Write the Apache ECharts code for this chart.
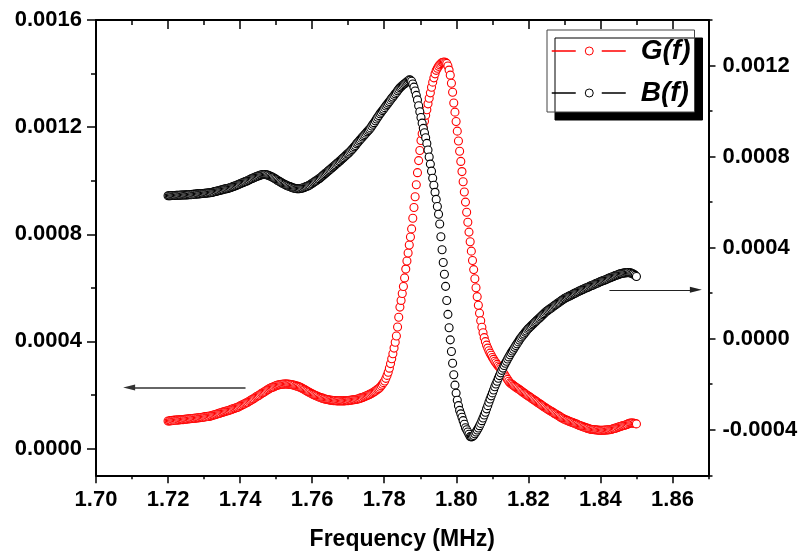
<!DOCTYPE html>
<html>
<head>
<meta charset="utf-8">
<script src="https://cdn.jsdelivr.net/npm/echarts@6/dist/echarts.min.js"></script>
<style>
html,body{margin:0;padding:0;background:#fff;}
#chart{width:803px;height:554px;}
</style>
</head>
<body>
<div id="chart"></div>
<script>
// Frequency sweep: 401 points from 1.72 to 1.85 MHz
const F_START = 1.72, F_STOP = 1.85, N_POINTS = 401;
const FREQ = Array.from({length: N_POINTS}, (_, i) => +(F_START + i * (F_STOP - F_START) / (N_POINTS - 1)).toFixed(6));

// Values in micro-units (x 1e-6)
const UNIT = 1e-6;
const G_VALUES = [103,103,104,104,105,105,106,106,106,107,107,108,108,108,109,109,110,110,111,111,112,112,113,113,114,114,115,115,
116,117,117,118,119,119,120,120,121,
122,124,125,126,128,129,131,132,133,135,136,137,139,140,
141,143,144,146,147,149,150,152,153,
155,158,160,162,164,166,169,171,173,176,178,
181,184,186,189,192,195,197,200,203,
206,208,211,214,217,219,222,225,
227,229,230,232,234,236,237,
238,239,240,240,241,241,
241,241,240,240,239,238,
237,236,234,233,232,230,229,
226,224,221,219,216,214,211,209,206,204,
202,200,198,196,194,192,190,
189,188,186,185,184,183,182,181,
180,180,179,179,179,178,178,178,178,
178,178,178,178,179,179,179,
180,180,181,182,182,183,184,
185,186,188,189,190,192,
194,196,198,200,202,204,206,
209,212,215,218,221,224,
229,234,240,246,252,
262,273,285,
300,317,335,
354,375,397,420,
454,490,528,
553,579,605,
637,670,
700,730,760,
790,820,
860,900,940,
985,1030,1075,
1113,1150,
1175,1199,1222,
1244,1265,
1287,1308,1328,
1349,1368,
1384,1399,1412,
1420,1427,1433,
1437,1441,1442,1443,
1441,1438,1428,1413,1394,1364,1330,
1290,1256,1221,1185,1148,1110,1072,1034,996,958,920,882,845,808,772,737,702,668,634,600,567,535,505,477,453,432,414,399,386,375,365,356,
348,340,333,326,320,314,308,303,298,
291,284,278,271,264,258,251,245,
242,239,235,232,229,226,223,220,217,214,210,207,204,201,198,195,
192,189,186,183,180,177,174,171,168,165,162,159,156,153,150,
147,145,142,139,137,134,131,129,126,123,121,118,115,113,110,
108,106,105,103,101,99,98,96,94,92,91,89,87,85,84,82,
80,79,77,76,75,73,72,
71,71,70,70,69,69,68,68,
68,68,68,69,69,69,70,70,
71,72,74,75,76,77,79,80,
82,83,85,86,87,89,90,
92,94,95,
95,95,94,93,92];

const B_VALUES = [628,628,628,629,629,629,629,630,630,630,630,631,631,631,631,632,632,632,633,633,
633,634,634,635,635,636,636,637,637,638,638,639,639,640,640,641,641,
642,643,645,646,647,649,650,651,653,654,655,657,658,659,660,662,663,
665,667,669,671,673,675,677,679,682,684,686,688,690,
692,695,697,700,702,704,707,709,
711,713,715,717,719,720,
721,721,721,720,719,
717,715,712,710,707,704,
701,697,694,691,688,685,
682,679,677,674,672,670,668,
666,664,662,661,660,659,
659,659,660,661,662,
664,666,668,670,673,675,
679,682,686,689,693,696,700,703,707,
711,716,720,725,729,733,738,742,
746,751,755,760,764,769,773,778,782,
787,792,796,801,806,811,815,820,825,
831,837,843,849,856,862,868,874,
880,886,891,897,903,909,915,920,926,
934,942,949,957,965,973,980,988,
995,1002,1008,1015,1022,1029,1035,1042,1049,
1056,1062,1069,1076,1082,1089,1096,1102,
1107,1112,1116,1120,1124,
1129,1133,1137,1136,1131,1119,1105,1088,1069,1049,
1023,997,972,947,924,905,883,858,829,798,767,736,705,674,643,612,581,
547,504,448,391,335,283,230,168,107,48,-5,-56,-108,-158,-204,-239,-270,-294,-315,-330,-345,-360,-376,-391,-400,-410,-420,-430,-431,-430,
-425,-418,-410,-401,-392,-382,-372,-360,-348,-335,-323,-308,-294,-279,-265,-251,-238,-225,-211,-199,-187,-174,-162,-150,-139,-129,-118,-108,-99,-89,-80,-71,-62,-54,-46,-38,-30,-22,-14,-6,
2,8,15,21,28,34,41,46,51,56,61,66,71,76,81,86,90,95,100,105,110,115,120,
123,127,131,134,138,142,146,149,153,157,160,164,168,171,175,
178,181,183,186,188,191,193,196,199,201,204,206,209,211,214,
216,218,221,223,225,227,230,232,234,236,239,241,243,245,248,250,
252,254,256,258,260,262,265,267,
269,271,273,275,277,279,281,283,285,
286,287,288,289,290,290,291,
290,289,287,285,282,278,273];

const X_MAJOR = [1.70,1.72,1.74,1.76,1.78,1.80,1.82,1.84,1.86];
const X_MINOR = [1.71,1.73,1.75,1.77,1.79,1.81,1.83,1.85,1.87];
const YL_MAJOR = [0.0000,0.0004,0.0008,0.0012,0.0016];
const YL_MINOR = [0.0002,0.0006,0.0010,0.0014];
const YR_MAJOR = [-0.0004,0.0000,0.0004,0.0008,0.0012];
const YR_MINOR = [-0.0006,-0.0002,0.0002,0.0006,0.0010,0.0014];

// Arrow annotations (data coordinates)
const ARROW_G = [[1.7415, 0.000228],[1.7092, 0.000228]];
const ARROW_B = [[1.8425, 0.000215],[1.8665, 0.000215]];

const FONT = "'Liberation Sans', Arial, Helvetica, sans-serif";
const n = Math.min(FREQ.length, G_VALUES.length, B_VALUES.length);
const gData = [], bData = [];
for (let i = 0; i < n; i++) {
  gData.push([FREQ[i], G_VALUES[i] * UNIT]);
  bData.push([FREQ[i], B_VALUES[i] * UNIT]);
}

const axisLine = {show: true, onZero: false, lineStyle: {color: '#000', width: 2}};
const noLine = {show: false, onZero: false};
const labelStyle = {color: '#000', fontFamily: FONT, fontWeight: 'bold', fontSize: 22};

function xAx(pos, values, len, inside, labels) {
  return {
    type: 'value', position: pos, min: 1.70, max: 1.87,
    axisLine: labels !== null ? axisLine : noLine,
    splitLine: {show: false},
    axisTick: {show: true, customValues: values, length: len, inside: inside, lineStyle: {color: '#000', width: 1.5}},
    axisLabel: labels ? Object.assign({show: true, customValues: labels, margin: 14, formatter: v => v.toFixed(2)}, labelStyle) : {show: false}
  };
}
function yAx(pos, min, max, values, len, labels, line) {
  return {
    type: 'value', position: pos, min: min, max: max,
    axisLine: line ? axisLine : noLine,
    splitLine: {show: false},
    axisTick: {show: true, customValues: values, length: len, inside: false, lineStyle: {color: '#000', width: 1.5}},
    axisLabel: labels ? Object.assign({show: true, customValues: labels, margin: 14, formatter: v => (Math.abs(v) < 1e-12 ? 0 : v).toFixed(4)}, labelStyle) : {show: false}
  };
}

const xBottom = xAx('bottom', X_MAJOR, 8, false, X_MAJOR);
xBottom.name = 'Frequency (MHz)';
xBottom.nameLocation = 'middle';
xBottom.nameGap = 53;
xBottom.nameTextStyle = {color: '#000', fontFamily: FONT, fontWeight: 'bold', fontSize: 23};

const option = {
  animation: false,
  backgroundColor: '#fff',
  grid: {left: 96, right: 94.5, top: 20, bottom: 78.7, containLabel: false, outerBoundsMode: 'none'},
  xAxis: [
    xBottom,
    xAx('bottom', X_MINOR, 4, false, null),
    xAx('top', X_MAJOR, 9, true, false),
    xAx('top', X_MINOR, 5, true, null)
  ],
  yAxis: [
    yAx('left', -0.0001, 0.0016, YL_MAJOR, 9, YL_MAJOR, true),
    yAx('left', -0.0001, 0.0016, YL_MINOR, 5, null, false),
    yAx('right', -0.0006, 0.0014, YR_MAJOR, 7, YR_MAJOR, true),
    yAx('right', -0.0006, 0.0014, YR_MINOR, 4, null, false)
  ],
  legend: {
    orient: 'vertical', left: 547, top: 30,
    padding: [7, 4, 5, 4], itemGap: 14, itemWidth: 75, itemHeight: 10,
    backgroundColor: '#fff', borderColor: '#444', borderWidth: 1,
    shadowColor: '#000', shadowBlur: 0, shadowOffsetX: 8, shadowOffsetY: 8,
    selectedMode: false,
    textStyle: {fontFamily: FONT, fontWeight: 'bold', fontStyle: 'italic', fontSize: 28, color: '#000', padding: [0, 0, 0, 9]},
    data: [
      {name: 'G(f)', itemStyle: {color: '#fff', borderColor: '#ff0000', borderWidth: 1}, lineStyle: {color: '#ff0000', width: 1.5, opacity: 1, type: [24, 26]}},
      {name: 'B(f)', itemStyle: {color: '#fff', borderColor: '#000', borderWidth: 1}, lineStyle: {color: '#000', width: 1.5, opacity: 1, type: [24, 26]}}
    ]
  },
  series: [
    {
      name: 'G(f)', type: 'line', xAxisIndex: 0, yAxisIndex: 0,
      data: gData, symbol: 'circle', symbolSize: 8, showSymbol: true,
      itemStyle: {color: '#fff', borderColor: '#ff0000', borderWidth: 1.1},
      lineStyle: {opacity: 0, width: 1},
      emphasis: {disabled: true}, silent: true,
      markLine: {
        silent: true, animation: false,
        symbol: ['none', 'triangle'], symbolSize: [6, 12],
        label: {show: false},
        lineStyle: {color: '#333', width: 1.5, type: 'solid'},
        data: [[{coord: ARROW_G[0]}, {coord: ARROW_G[1]}]]
      }
    },
    {
      name: 'B(f)', type: 'line', xAxisIndex: 0, yAxisIndex: 2,
      data: bData, symbol: 'circle', symbolSize: 8, showSymbol: true,
      itemStyle: {color: '#fff', borderColor: '#000', borderWidth: 1.1},
      lineStyle: {opacity: 0, width: 1},
      emphasis: {disabled: true}, silent: true,
      markLine: {
        silent: true, animation: false,
        symbol: ['none', 'triangle'], symbolSize: [6, 12],
        label: {show: false},
        lineStyle: {color: '#222', width: 1.2, type: 'solid'},
        data: [[{coord: ARROW_B[0]}, {coord: ARROW_B[1]}]]
      }
    }
  ]
};

const chart = echarts.init(document.getElementById('chart'), null, {renderer: 'canvas'});
chart.setOption(option);
</script>
</body>
</html>
